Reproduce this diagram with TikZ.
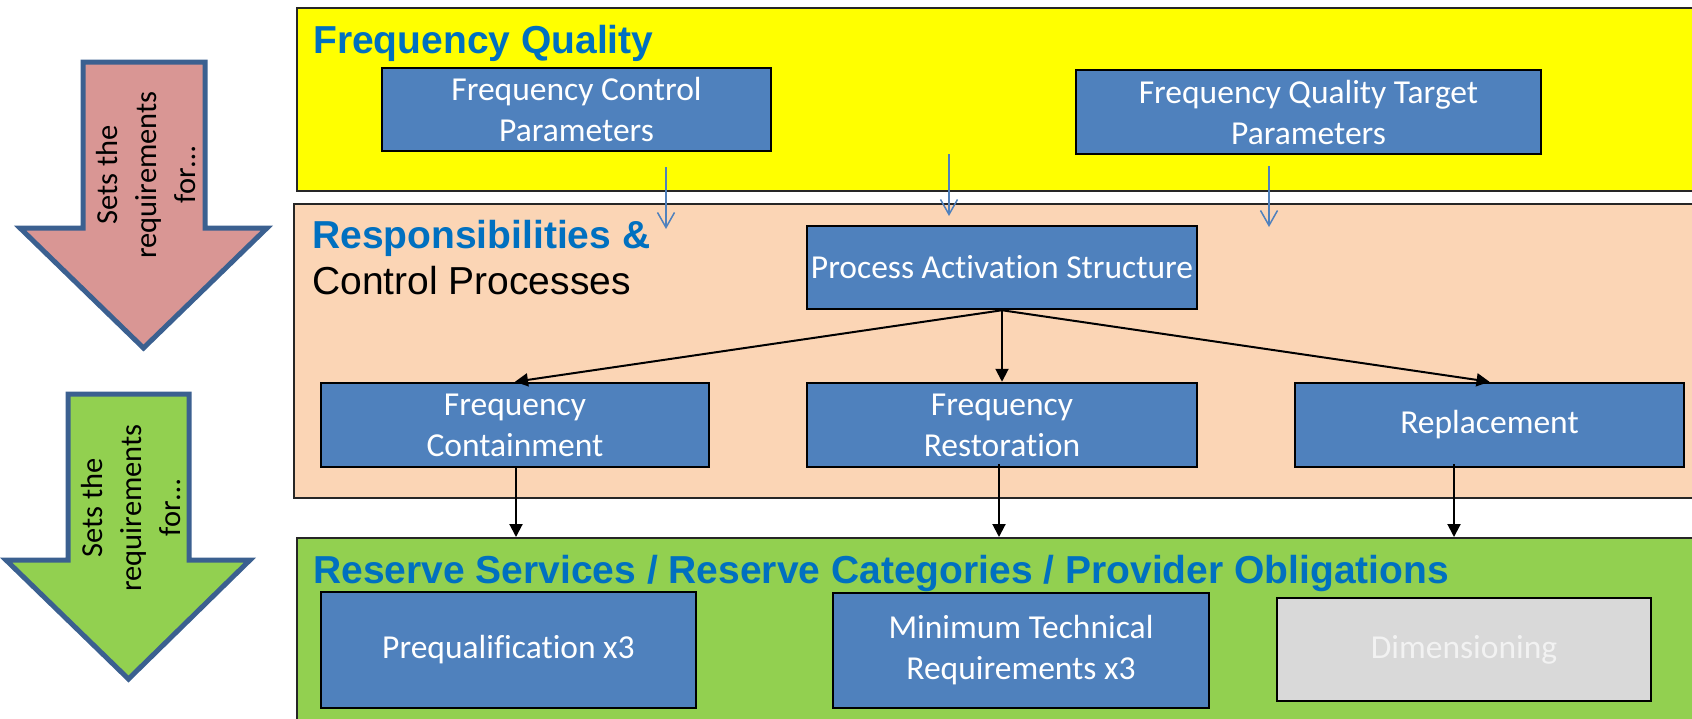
\documentclass[tikz,border=0pt]{standalone}
\usepackage{fontspec}
\setmainfont{Carlito}[RawFeature=-liga]
\newfontfamily\headfont{Liberation Sans}
\usetikzlibrary{arrows.meta,calc}

\definecolor{boxblue}{HTML}{4F81BD}
\definecolor{titleblue}{HTML}{0070C0}
\definecolor{qualyellow}{HTML}{FFFF00}
\definecolor{procpeach}{HTML}{FBD5B5}
\definecolor{resgreen}{HTML}{92D050}
\definecolor{reqred}{HTML}{D99694}
\definecolor{arrowedge}{HTML}{3B6090}
\definecolor{dimgrey}{HTML}{D9D9D9}

\tikzset{
  panel/.style={draw=black!85, line width=2pt, inner sep=0pt, anchor=north west},
  procbox/.style={draw=black, line width=2.5pt, fill=boxblue, text=white, align=center,
    inner sep=0pt, font=\fontsize{33.5}{41}\selectfont},
  greybox/.style={procbox, fill=dimgrey, text=black!5},
  paneltitle/.style={anchor=base west, inner sep=0pt, text=titleblue,
    font=\headfont\bfseries\fontsize{39}{46}\selectfont},
  feed/.style={draw=boxblue, line width=1.5pt,
    -{Straight Barb[length=15pt,width=17pt,line width=1.5pt]}},
  flow/.style={draw=black, line width=2pt, -{Triangle[length=13pt,width=13pt]}},
  bigarrow/.style={draw=arrowedge, line width=5pt, line join=miter},
  arrowtext/.style={rotate=90, align=center, inner sep=0pt,
    font=\fontsize{30.5}{39}\selectfont}
}

\begin{document}
\begin{tikzpicture}[x=1pt,y=-1pt]
\useasboundingbox (0,0) rectangle (1692,718);
\clip (0,0) rectangle (1692,718);

% three layered panels
\node[panel, fill=qualyellow, minimum width=1410pt, minimum height=183pt] (quality) at (296,7) {};
\node[panel, fill=procpeach, minimum width=1410pt, minimum height=294pt] (processes) at (293,203) {};
\node[panel, fill=resgreen, minimum width=1410pt, minimum height=200pt] (reserves) at (296,537) {};

% panel headings
\node[paneltitle] (qtitle) at (313,53) {Frequency Quality};
\node[paneltitle] (ptitle) at (312,248) {Responsibilities \&};
\node[paneltitle, text=black, font=\headfont\fontsize{39}{46}\selectfont] (ptitlesub) at (312,294) {Control Processes};
\node[paneltitle] (rtitle) at (313,583) {Reserve Services / Reserve Categories / Provider Obligations};

% frequency quality parameters
\node[procbox, minimum width=389pt, minimum height=83pt] (fcp) at (576.5,109.5) {Frequency Control\\Parameters};
\node[procbox, minimum width=465pt, minimum height=84pt] (fqt) at (1308.5,112) {Frequency Quality Target\\Parameters};

% control processes
\node[procbox, minimum width=390pt, minimum height=83pt] (pas) at (1002,267.5) {Process Activation Structure};
\node[procbox, minimum width=388pt, minimum height=84pt] (fc) at (515,425) {Frequency\\Containment};
\node[procbox, minimum width=390pt, minimum height=84pt] (fr) at (1002,425) {Frequency\\Restoration};
\node[procbox, minimum width=389pt, minimum height=84pt] (repl) at (1489.5,425) {Replacement};

% reserve obligations
\node[procbox, minimum width=375pt, minimum height=116pt] (preq) at (508.5,650) {Prequalification x3};
\node[procbox, minimum width=376pt, minimum height=115pt] (mtr) at (1021,650.5) {Minimum Technical\\Requirements x3};
\node[greybox, minimum width=374pt, minimum height=103pt] (dim) at (1464,649.5) {Dimensioning};

% feeds from the quality panel
\coordinate (feedA) at (666,167);  \coordinate (feedAend) at (666,229);
\coordinate (feedB) at (949,154);  \coordinate (feedBend) at (949,216);
\coordinate (feedC) at (1269,166); \coordinate (feedCend) at (1269,227);
\draw[feed] (feedA) -- (feedAend);
\draw[feed] (feedB) -- (feedBend);
\draw[feed] (feedC) -- (feedCend);

% activation structure to the three processes
\draw[flow] (pas.south) -- (fc.north);
\draw[flow] (pas.south) -- (fr.north);
\draw[flow] (pas.south) -- (repl.north);

% processes down to the reserve panel
\coordinate (fcout) at ($(fc.south)+(1,-2)$);
\coordinate (frout) at ($(fr.south)+(-3,-4)$);
\coordinate (replout) at ($(repl.south)+(-35.5,-4)$);
\draw[flow] (fcout) -- (fcout |- reserves.north);
\draw[flow] (frout) -- (frout |- reserves.north);
\draw[flow] (replout) -- (replout |- reserves.north);

% block arrows on the left
\draw[bigarrow, fill=reqred] (83,62) -- (205,62) -- (205,228) -- (267,228)
  -- (143.5,348) -- (20,228) -- (83,228) -- cycle;
\node[arrowtext] (reqtextA) at (146,175) {Sets the\\requirements\\for…};

\draw[bigarrow, fill=resgreen] (68,394) -- (189,394) -- (189,560) -- (250,560)
  -- (128.5,679) -- (6,560) -- (68,560) -- cycle;
\node[arrowtext] (reqtextB) at (131,508) {Sets the\\requirements\\for…};
\end{tikzpicture}
\end{document}
